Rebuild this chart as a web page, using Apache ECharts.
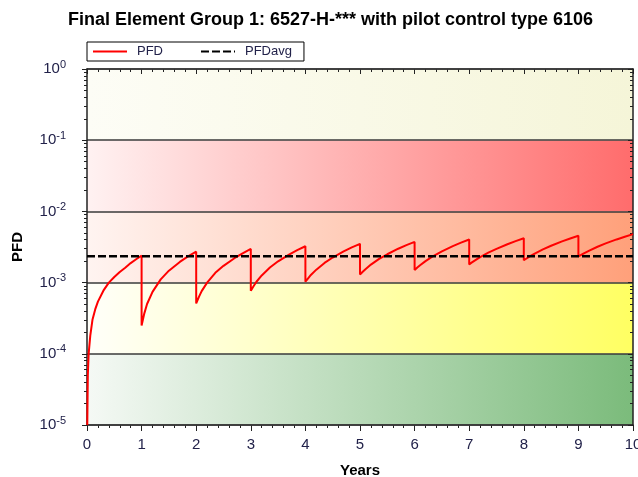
<!DOCTYPE html>
<html>
<head>
<meta charset="utf-8">
<script src="https://cdn.jsdelivr.net/npm/echarts@6/dist/echarts.min.js"></script>
<style>
html, body { margin: 0; padding: 0; background: #fff; }
#chart { width: 638px; height: 477px; }
</style>
</head>
<body>
<div id="chart"></div>
<script>
// PFD: first year, then the nine test cycles (years 1..9)
var firstYearTime = [0.005, 0.015, 0.03, 0.06, 0.1, 0.15, 0.2, 0.3, 0.4, 0.5, 0.6, 0.7, 0.8, 0.9, 1.0];
var firstYearPfd = [1.0e-5, 5.0e-5, 1.0e-4, 1.8e-4, 3.0e-4, 4.2e-4, 5.4e-4, 7.7e-4, 1.0e-3, 1.2e-3, 1.41e-3, 1.62e-3, 1.88e-3, 2.13e-3, 2.39e-3];
var cycleOffsets = [0, 0.05, 0.1, 0.2, 0.35, 0.5, 0.7, 0.85, 1];
var cyclePfd = [
    [2.5e-4, 3.7e-4, 5.0e-4, 7.4e-4, 1.11e-3, 1.47e-3, 1.95e-3, 2.33e-3, 2.72e-3],
    [5.1e-4, 6.3e-4, 7.6e-4, 1.0e-3, 1.37e-3, 1.72e-3, 2.2e-3, 2.58e-3, 2.97e-3],
    [7.7e-4, 8.9e-4, 1.02e-3, 1.26e-3, 1.63e-3, 1.99e-3, 2.47e-3, 2.85e-3, 3.24e-3],
    [1.03e-3, 1.15e-3, 1.28e-3, 1.52e-3, 1.89e-3, 2.25e-3, 2.74e-3, 3.12e-3, 3.5e-3],
    [1.3e-3, 1.42e-3, 1.54e-3, 1.79e-3, 2.15e-3, 2.5e-3, 2.99e-3, 3.36e-3, 3.73e-3],
    [1.5e-3, 1.63e-3, 1.75e-3, 2.0e-3, 2.38e-3, 2.75e-3, 3.26e-3, 3.64e-3, 4.03e-3],
    [1.8e-3, 1.92e-3, 2.04e-3, 2.28e-3, 2.63e-3, 2.98e-3, 3.46e-3, 3.83e-3, 4.2e-3],
    [2.06e-3, 2.18e-3, 2.31e-3, 2.56e-3, 2.93e-3, 3.29e-3, 3.79e-3, 4.16e-3, 4.55e-3],
    [2.33e-3, 2.45e-3, 2.58e-3, 2.82e-3, 3.19e-3, 3.55e-3, 4.04e-3, 4.41e-3, 4.8e-3]
];
var pfdAvg = 2.34e-3;
var yearRange = [0, 10];
var bandEdges = [1e-5, 1e-4, 1e-3, 1e-2, 1e-1, 1];

// gradient colours of the bands, bottom to top
var bandFills = [
    ['#f5f9f5', '#7bbb7b'],
    ['#fffffa', '#ffff62'],
    ['#fff4f1', '#ffa07a'],
    ['#fff2f2', '#ff6c6c'],
    ['#fdfdf6', '#f5f5d8']
];

var pfdData = [];
for (var i = 0; i < firstYearTime.length; i++) {
    pfdData.push([firstYearTime[i], firstYearPfd[i]]);
}
for (var c = 0; c < cyclePfd.length; c++) {
    for (var k = 0; k < cycleOffsets.length; k++) {
        pfdData.push([c + 1 + cycleOffsets[k], cyclePfd[c][k]]);
    }
}
var avgData = [[yearRange[0], pfdAvg], [yearRange[1], pfdAvg]];

var bands = [];
for (var b = 0; b < bandEdges.length - 1; b++) {
    bands.push([
        {
            yAxis: bandEdges[b],
            itemStyle: {
                color: {
                    type: 'linear', x: 0, y: 0, x2: 1, y2: 0,
                    colorStops: [{offset: 0, color: bandFills[b][0]}, {offset: 1, color: bandFills[b][1]}]
                }
            }
        },
        {yAxis: bandEdges[b + 1]}
    ]);
}

var textColor = '#22224a';
var axisColor = '#222';

function powLabel(v) {
    var e = Math.round(Math.log(v) / Math.LN10);
    return '{b|10}{s|' + e + '}';
}

var myChart = echarts.init(document.getElementById('chart'));
var option = {
    animation: false,
    title: {
        text: 'Final Element Group 1: 6527-H-*** with pilot control type 6106',
        left: 68,
        top: 11,
        padding: 0,
        textStyle: {fontFamily: 'Arial', fontSize: 18, fontWeight: 'bold', color: '#000'}
    },
    legend: {
        left: 87,
        top: 42,
        padding: [3, 12, 3, 5],
        backgroundColor: '#fff',
        borderColor: '#000',
        borderWidth: 1,
        borderRadius: 0,
        itemWidth: 34,
        itemHeight: 12,
        itemGap: 37,
        itemStyle: {opacity: 0},
        textStyle: {fontFamily: 'Arial', fontSize: 13, color: textColor, padding: [0, 0, 0, 5]},
        data: ['PFD', 'PFDavg']
    },
    grid: {left: 87, right: 5, top: 69, bottom: 52, containLabel: false, outerBoundsMode: 'none'},
    xAxis: [
        {
            type: 'value', position: 'bottom',
            min: yearRange[0], max: yearRange[1], interval: 1,
            name: 'Years', nameLocation: 'middle', nameGap: 38,
            nameTextStyle: {fontFamily: 'Arial', fontSize: 15, fontWeight: 'bold', color: '#000'},
            axisLine: {show: true, onZero: false, lineStyle: {color: axisColor, width: 1.5}},
            axisTick: {show: true, length: 6, lineStyle: {color: axisColor}},
            minorTick: {show: true, splitNumber: 5, length: 3, lineStyle: {color: axisColor}},
            splitLine: {show: false},
            axisLabel: {fontFamily: 'Arial', fontSize: 15, color: textColor, margin: 12}
        },
        {
            type: 'value', position: 'top',
            min: yearRange[0], max: yearRange[1], interval: 1,
            axisLine: {show: true, onZero: false, lineStyle: {color: axisColor, width: 1.5}},
            axisTick: {show: true, inside: true, length: 5, lineStyle: {color: axisColor}},
            minorTick: {show: true, splitNumber: 5, length: 3, lineStyle: {color: axisColor}},
            splitLine: {show: false},
            axisLabel: {show: false}
        }
    ],
    yAxis: [
        {
            type: 'log', logBase: 10, position: 'left', z: 1,
            min: bandEdges[0], max: bandEdges[bandEdges.length - 1],
            name: 'PFD', nameLocation: 'middle', nameGap: 62,
            nameTextStyle: {fontFamily: 'Arial', fontSize: 15, fontWeight: 'bold', color: '#000'},
            axisLine: {show: true, onZero: false, lineStyle: {color: axisColor, width: 1.5}},
            axisTick: {show: true, length: 5, lineStyle: {color: axisColor}},
            minorTick: {show: true, splitNumber: 9, length: 3, lineStyle: {color: axisColor}},
            splitLine: {show: true, lineStyle: {color: '#3a3a3a', width: 1.5}},
            axisLabel: {
                margin: 21,
                formatter: powLabel,
                rich: {
                    b: {fontFamily: 'Arial', fontSize: 15, color: textColor},
                    s: {fontFamily: 'Arial', fontSize: 11, color: textColor, padding: [0, 0, 9, 0], verticalAlign: 'bottom'}
                }
            }
        },
        {
            type: 'log', logBase: 10, position: 'right', z: 1,
            min: bandEdges[0], max: bandEdges[bandEdges.length - 1],
            axisLine: {show: true, onZero: false, lineStyle: {color: axisColor, width: 1.5}},
            axisTick: {show: true, inside: true, length: 5, lineStyle: {color: axisColor}},
            minorTick: {show: true, splitNumber: 9, length: 3, lineStyle: {color: axisColor}},
            splitLine: {show: false},
            axisLabel: {show: false}
        }
    ],
    series: [
        {
            name: 'bands',
            type: 'line',
            data: avgData,
            symbol: 'none',
            silent: true,
            z: 0,
            lineStyle: {opacity: 0},
            markArea: {silent: true, z: 0, data: bands}
        },
        {
            name: 'PFD',
            type: 'line',
            data: pfdData,
            symbol: 'none',
            showSymbol: false,
            z: 3,
            lineStyle: {color: '#ff0000', width: 2},
            itemStyle: {color: '#ff0000'}
        },
        {
            name: 'PFDavg',
            type: 'line',
            data: avgData,
            symbol: 'none',
            showSymbol: false,
            z: 4,
            lineStyle: {color: '#000', width: 2.5, type: [8, 3]},
            itemStyle: {color: '#000'}
        }
    ]
};
myChart.setOption(option);
</script>
</body>
</html>
